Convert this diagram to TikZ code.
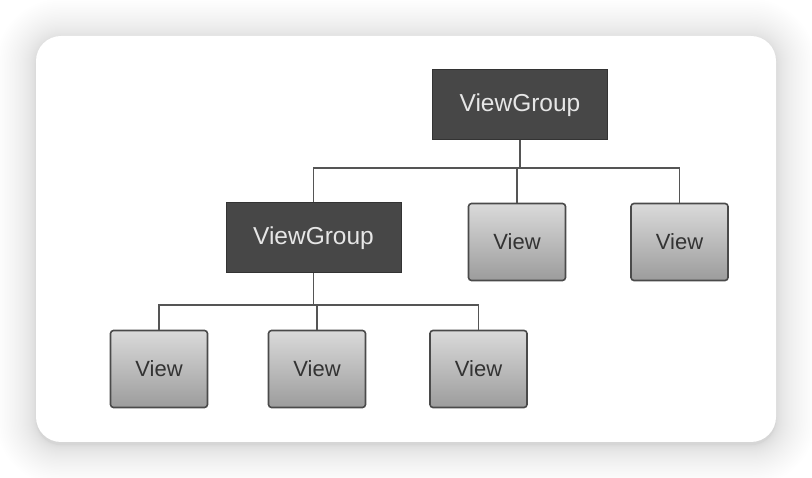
\documentclass[tikz,border=0pt]{standalone}
\usepackage{fontspec}
\setmainfont{Liberation Sans}
\definecolor{groupfill}{HTML}{474747}
\definecolor{groupdraw}{HTML}{333333}
\definecolor{grouptext}{HTML}{E6E6E6}
\definecolor{viewtop}{HTML}{DADADA}
\definecolor{viewbot}{HTML}{9C9C9C}
\definecolor{viewdraw}{HTML}{4A4A4A}
\definecolor{linec}{HTML}{555555}
\tikzset{
  groupbox/.style={rectangle, fill=groupfill, draw=groupdraw, line width=1pt,
    minimum width=175pt, minimum height=70pt, inner sep=0pt,
    text=grouptext, font=\fontsize{24.5}{24.5}\selectfont},
  viewbox/.style={rectangle, rounded corners=3pt, top color=viewtop, bottom color=viewbot,
    draw=viewdraw, line width=1.6pt, minimum width=97pt, minimum height=77pt, inner sep=0pt,
    text=black!80, font=\fontsize{22}{22}\selectfont},
  conn/.style={draw=linec, line width=1.5pt},
  shadowlayer/.style={fill=black, fill opacity=0.005}
}
\begin{document}
\begin{tikzpicture}[x=1pt,y=-1pt]
\useasboundingbox (0,0) rectangle (812,478);
\fill[white] (0,0) rectangle (812,478);
\foreach \i in {0,1,...,40}{
  \pgfmathsetmacro{\d}{\i*\i/40}
  \fill[shadowlayer, rounded corners={(25+\d)*1pt}] (36-\d,39-\d) rectangle (776+\d,445+\d);
}
\fill[white, rounded corners=25pt] (36,36) rectangle (776,442);
\node[groupbox] (g1) at (520,105) {ViewGroup};
\node[groupbox] (g2) at (313.5,238) {ViewGroup};
\node[viewbox] (v1) at (517,242) {View};
\node[viewbox] (v2) at (679.5,242) {View};
\node[viewbox] (v3) at (159,369) {View};
\node[viewbox] (v4) at (317,369) {View};
\node[viewbox] (v5) at (478.5,369) {View};
\coordinate (bus1) at (0,168);
\coordinate (bus2) at (0,305);
\draw[conn] (g1.south) -- (g1.south |- bus1);
\draw[conn] (g2.north) -- (g2.north |- bus1) -- (v2.north |- bus1) -- (v2.north);
\draw[conn] (v1.north) -- (v1.north |- bus1);
\draw[conn] (g2.south) -- (g2.south |- bus2);
\draw[conn] (v3.north) -- (v3.north |- bus2) -- (v5.north |- bus2) -- (v5.north);
\draw[conn] (v4.north) -- (v4.north |- bus2);
\end{tikzpicture}
\end{document}
